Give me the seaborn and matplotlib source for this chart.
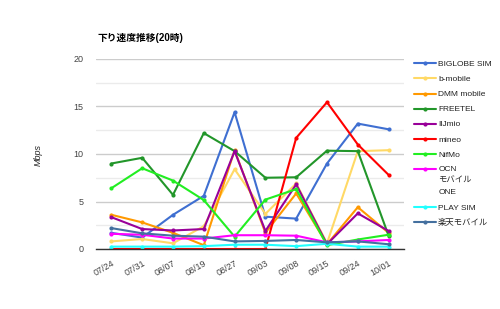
import matplotlib
matplotlib.use("Agg")
import matplotlib.pyplot as plt
import seaborn as sns
import pandas as pd
from matplotlib.ticker import MultipleLocator
from matplotlib.legend_handler import HandlerLine2D

dates = ["07/24", "07/31", "08/07", "08/19", "08/27", "09/03", "09/08", "09/15", "09/24", "10/01"]

biglobe = [1.7, 1.2, 3.6, 5.6, 14.4, 3.4, 3.2, 9.0, 13.2, 12.6]
bmobile = [0.8, 1.05, 0.6, 2.4, 8.4, 3.7, 6.9, 0.6, 10.3, 10.4]
dmm = [3.6, 2.8, 1.7, 0.4, 10.4, 1.7, 5.85, 0.5, 4.4, 1.7]
freetel = [9.0, 9.6, 5.7, 12.2, 10.3, 7.5, 7.55, 10.35, 10.3, 1.4]
iijmio = [3.35, 2.1, 1.95, 2.1, 10.3, 1.9, 6.8, 0.5, 3.75, 1.9]
mineo = [0.0, 0.0, 0.0, 0.0, 0.0, 0.0, 11.7, 15.45, 11.0, 7.8]
nifmo = [6.4, 8.5, 7.2, 5.15, 1.3, 5.2, 6.3, 0.4, 1.0, 1.5]
ocn = [1.6, 1.5, 1.1, 1.1, 1.45, 1.45, 1.4, 0.7, 0.8, 0.95]
playsim = [0.25, 0.25, 0.25, 0.3, 0.45, 0.45, 0.3, 0.55, 0.25, 0.25]
rakuten = [2.2, 1.65, 1.4, 1.3, 0.8, 0.85, 0.95, 0.7, 0.8, 0.5]

series_names = ["BIGLOBE SIM", "b-mobile", "DMM mobile", "FREETEL", "IIJmio", "mineo",
                "NifMo", "OCN\nモバイル\nONE", "PLAY SIM", "楽天モバイル"]
series_values = [biglobe, bmobile, dmm, freetel, iijmio, mineo, nifmo, ocn, playsim, rakuten]
colors = ["#3F6FD1", "#FFD966", "#FF9900", "#22962A", "#990099", "#FF0000",
          "#22EE22", "#FF00FF", "#22FFFF", "#44709F"]

rows = []
for name, vals in zip(series_names, series_values):
    for d, v in zip(dates, vals):
        rows.append({"date": d, "Mbps": v, "series": name})
df = pd.DataFrame(rows)

sns.set_theme(style="white")
plt.rcParams['font.family'] = ['Liberation Sans', 'Noto Sans CJK JP', 'DejaVu Sans']

fig = plt.figure(figsize=(5, 3.09), dpi=100)
ax = fig.add_axes([96/500, 1-249/309, 308/500, 190/309])

sns.lineplot(data=df, x="date", y="Mbps", hue="series", hue_order=series_names,
             palette=colors, marker="o", markersize=3, markeredgewidth=0,
             linewidth=1.5, ax=ax, sort=False)

ax.set_xlim(-0.5, len(dates) - 0.5)
ax.set_ylim(0, 20)
ax.yaxis.set_major_locator(MultipleLocator(5))
ax.yaxis.set_minor_locator(MultipleLocator(2.5))
ax.grid(which="major", axis="y", color="#cccccc", linewidth=1)
ax.grid(which="minor", axis="y", color="#ebebeb", linewidth=1)
ax.grid(False, axis="x")
ax.set_axisbelow(True)
for s in ["top", "right", "left"]:
    ax.spines[s].set_visible(False)
ax.spines["bottom"].set_color("#333333")
ax.spines["bottom"].set_linewidth(1)
ax.spines["bottom"].set_zorder(5)
ax.tick_params(axis="both", which="both", length=0, labelsize=6.5, colors="#444444")
ax.tick_params(axis="y", pad=9)
ax.tick_params(axis="x", pad=7)
for lab in ax.get_xticklabels():
    lab.set_rotation(30)
    lab.set_ha("right")
    lab.set_rotation_mode("anchor")
ax.set_xlabel("")
ax.set_ylabel("")

fig.text(38/500, 1-155/309, "Mbps", rotation=90, fontstyle="italic", fontsize=6.5,
         color="#222222", ha="center", va="center")
fig.text(97/500, 1-38/309, "下り速度推移(20時)", fontweight="bold", fontsize=7,
         color="#000000", ha="left", va="center")


class TopHandler(HandlerLine2D):
    def __init__(self, shift, **kw):
        super().__init__(**kw)
        self.shift = shift

    def create_artists(self, legend, orig_handle, xdescent, ydescent, width, height,
                       fontsize, trans):
        return super().create_artists(legend, orig_handle, xdescent, ydescent - self.shift,
                                      width, height, fontsize, trans)


handles, labels = ax.get_legend_handles_labels()
hmap = {handles[labels.index(series_names[7])]: TopHandler(shift=17)}
leg = ax.legend(handles, labels, loc="upper left", bbox_to_anchor=(414/500, 1-60.5/309),
                bbox_transform=fig.transFigure, frameon=False, fontsize=6,
                handlelength=2.6, handletextpad=0.3, labelspacing=0.865,
                borderaxespad=0, borderpad=0, handler_map=hmap)
for t in leg.get_texts():
    t.set_color("#222222")
    if "\n" in t.get_text():
        t.set_linespacing(1.95)

fig.savefig("out.png", dpi=100)
